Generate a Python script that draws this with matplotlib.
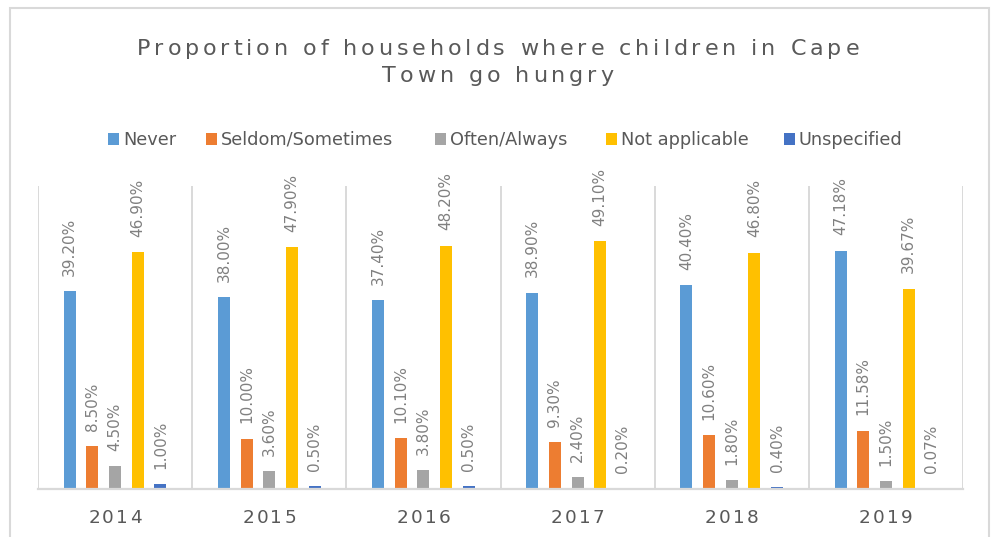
import matplotlib
matplotlib.use('Agg')
import matplotlib.pyplot as plt
import numpy as np
from matplotlib.patches import Rectangle
from matplotlib.font_manager import FontProperties, findfont
from matplotlib import ft2font

# ---------------- data ----------------
years = ['2014', '2015', '2016', '2017', '2018', '2019']
series = ['Never', 'Seldom/Sometimes', 'Often/Always', 'Not applicable', 'Unspecified']
never = [39.20, 38.00, 37.40, 38.90, 40.40, 47.18]
seldom = [8.50, 10.00, 10.10, 9.30, 10.60, 11.58]
often = [4.50, 3.60, 3.80, 2.40, 1.80, 1.50]
not_applicable = [46.90, 47.90, 48.20, 49.10, 46.80, 39.67]
unspecified = [1.00, 0.50, 0.50, 0.20, 0.40, 0.07]
values = [never, seldom, often, not_applicable, unspecified]
title_lines = ['Proportion of households where children in Cape', 'Town go hungry']

colors = ['#5B9BD5', '#ED7D31', '#A5A5A5', '#FFC000', '#4472C4']
TEXT = '#595959'
LABEL = '#808080'
GRID = '#D9D9D9'

W, H, DPI = 994, 537, 100
fig = plt.figure(figsize=(W / DPI, H / DPI), dpi=DPI)
fig.patch.set_facecolor('white')

try:
    NOHINT = ft2font.LoadFlags.NO_HINTING
except AttributeError:
    NOHINT = ft2font.LOAD_NO_HINTING


def fpos(x, y):
    return x / W, 1 - y / H


def advances(s, size):
    fp = FontProperties(family='DejaVu Sans', size=size)
    f = ft2font.FT2Font(findfont(fp))
    f.set_size(size, DPI)
    out = []
    for ch in s:
        g = f.load_char(ord(ch), flags=NOHINT)
        out.append(g.linearHoriAdvance / 65536)
    return out


def spaced_text(s, cx, baseline, size, spacing, color):
    adv = advances(s, size)
    total = sum(adv) + spacing * (len(s) - 1)
    x = cx - total / 2
    for ch, a in zip(s, adv):
        if ch != ' ':
            fig.text(*fpos(x + a / 2, baseline), ch, ha='center', va='baseline',
                     fontsize=size, color=color, family='DejaVu Sans')
        x += a + spacing


# ---------------- title ----------------
TSIZE = 16
adv1 = advances(title_lines[0], TSIZE)
tspacing = (722 - sum(adv1)) / (len(title_lines[0]) - 1)
spaced_text(title_lines[0], 498, 55, TSIZE, tspacing, TEXT)
spaced_text(title_lines[1], 498, 82, TSIZE, tspacing, TEXT)

# ---------------- legend ----------------
leg_x = [108, 206, 435, 606, 784]
for name, c, lx in zip(series, colors, leg_x):
    fig.patches.append(Rectangle(fpos(lx, 145), 11 / W, 12 / H, transform=fig.transFigure,
                                 facecolor=c, edgecolor='none'))
    fig.text(*fpos(lx + 15, 145), name, ha='left', va='baseline', fontsize=12.8,
             color=TEXT, family='DejaVu Sans')

# ---------------- axes ----------------
x0, x1, ytop, ybot = 38, 963, 186, 489
ax = fig.add_axes([x0 / W, 1 - ybot / H, (x1 - x0) / W, (ybot - ytop) / H])
ax.set_xlim(-0.5, len(years) - 0.5)
ax.set_ylim(0, 60)
for sp in ax.spines.values():
    sp.set_visible(False)
ax.set_xticks([])
ax.set_yticks([])
ax.patch.set_alpha(0)

for k in range(len(years) + 1):
    ax.axvline(k - 0.5, color=GRID, lw=1.4, zorder=0)
ax.axhline(0, color=GRID, lw=1.6, zorder=3, clip_on=False)

xs = np.arange(len(years))
step, bw = 0.147, 0.078
for i, (vals, c) in enumerate(zip(values, colors)):
    pos = xs + (i - 2) * step
    ax.bar(pos, vals, width=bw, color=c, zorder=2)
    for xp, v in zip(pos, vals):
        ax.annotate(f'{v:.2f}%', (xp, v), xytext=(0, 11), textcoords='offset points',
                    rotation=90, ha='center', va='bottom', fontsize=11, color=LABEL,
                    family='DejaVu Sans')

# year labels
for k, yr in enumerate(years):
    cx = x0 + (x1 - x0) * (k + 0.5) / len(years)
    spaced_text(yr, cx, 523, 13.3, 2.2, TEXT)

# ---------------- outer border ----------------
fig.patches.append(Rectangle((10 / W, -0.05), (989 - 10) / W, 1 - 8 / H + 0.05,
                             transform=fig.transFigure, fill=False, edgecolor=GRID, lw=1.5))

fig.savefig('out.png', dpi=DPI)
